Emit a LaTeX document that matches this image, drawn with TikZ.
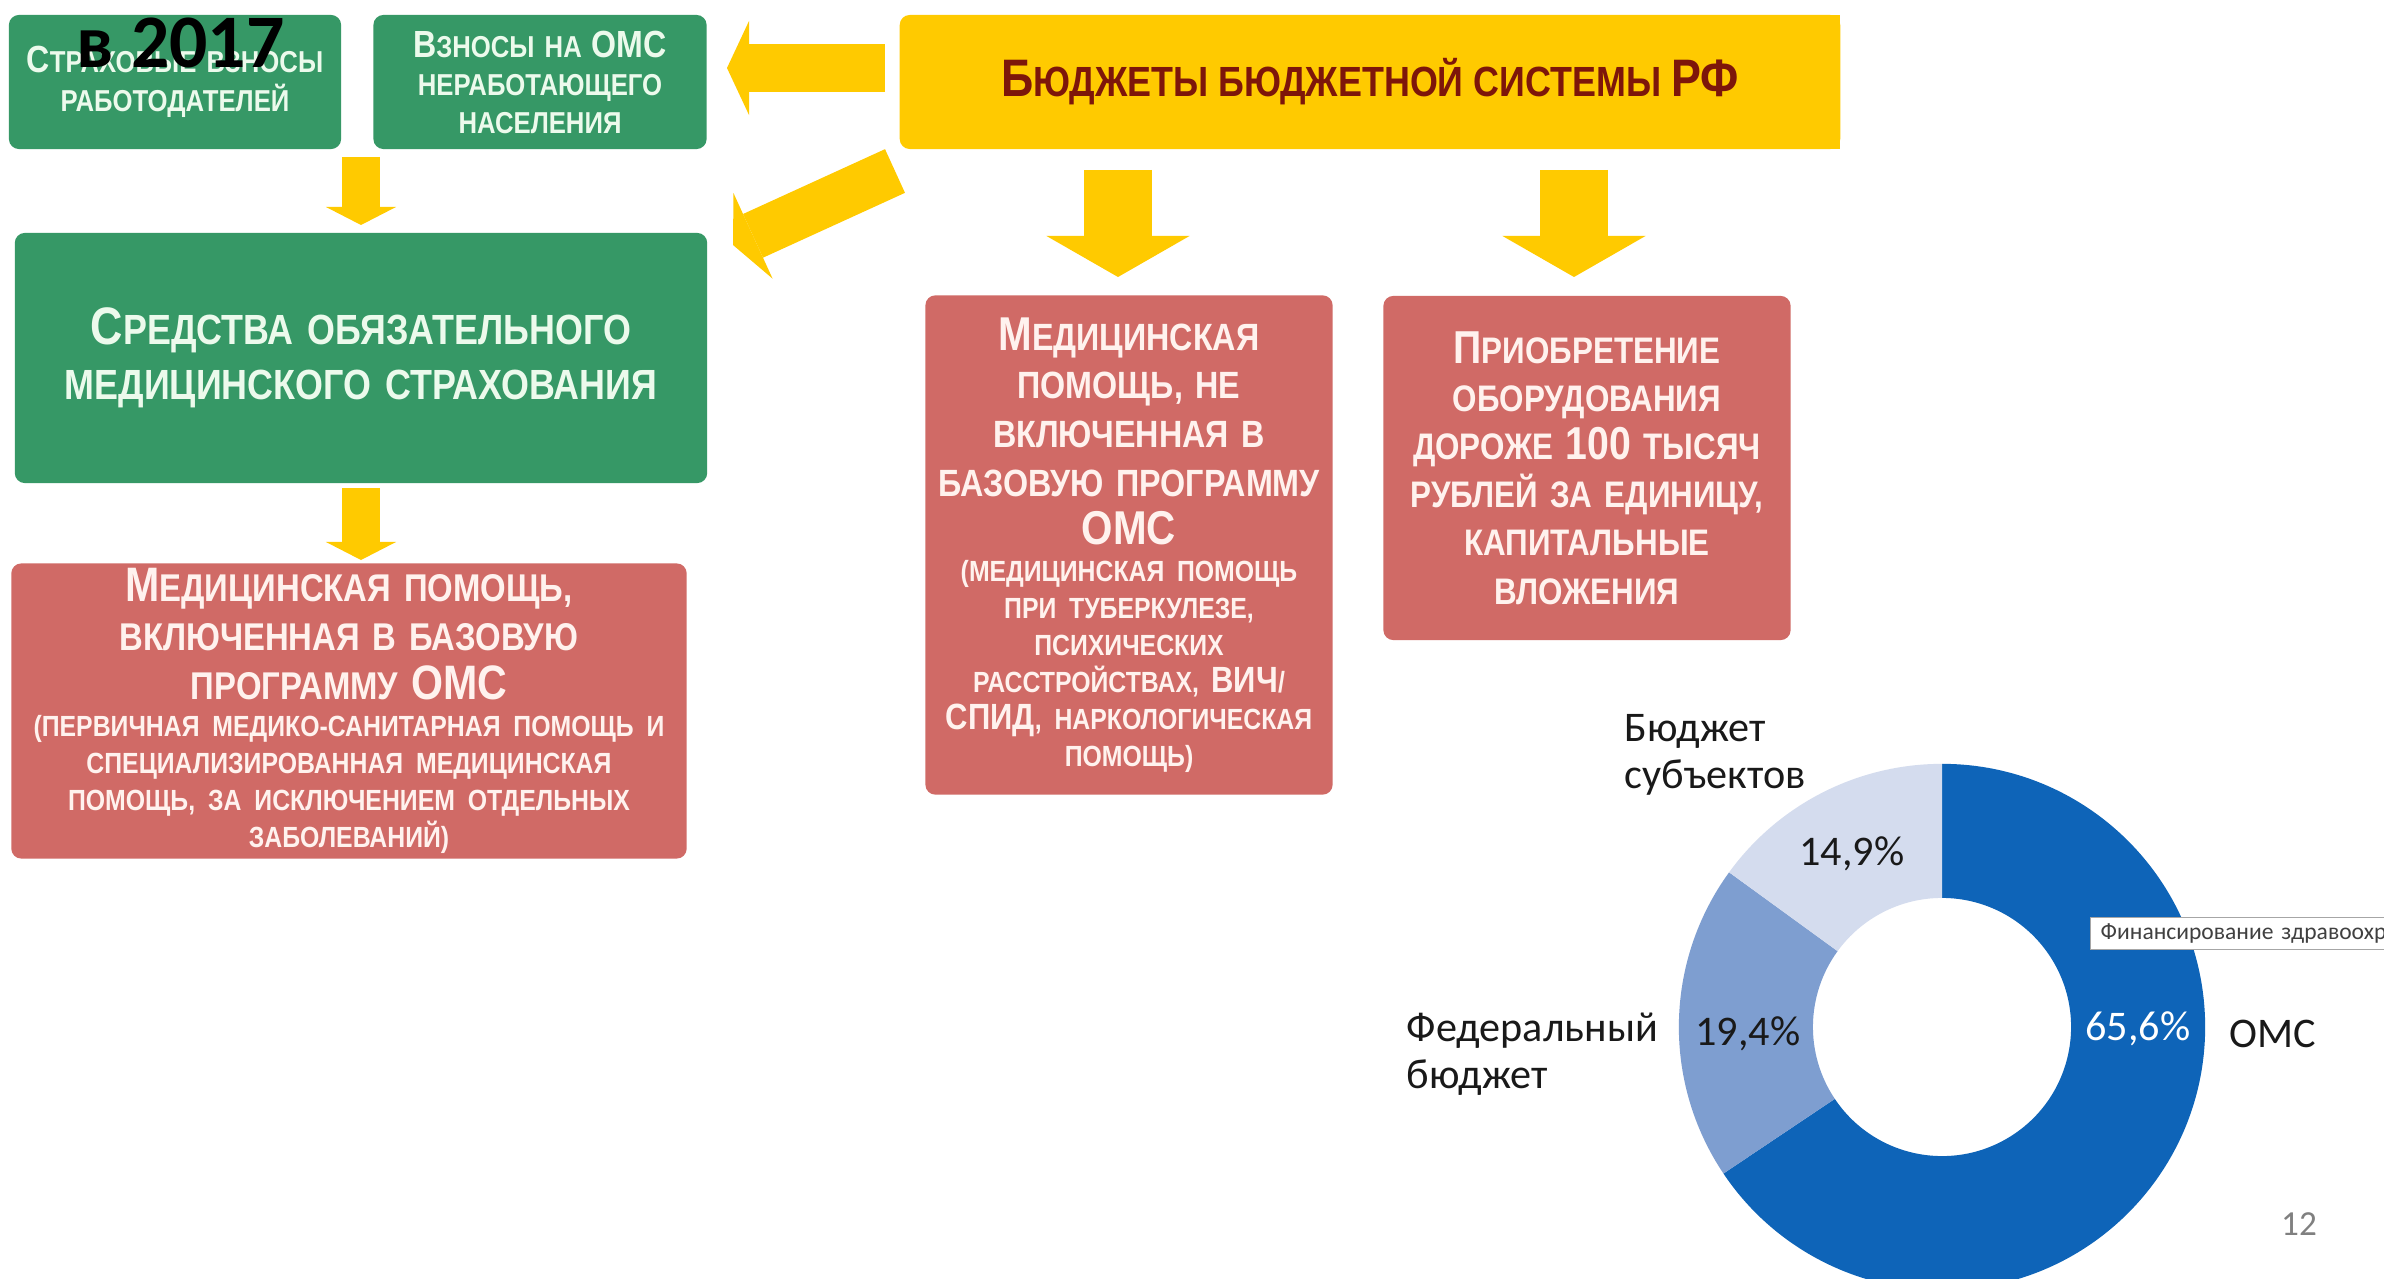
\documentclass[tikz,border=0pt]{standalone}
\usepackage{fontspec}
\usepackage{graphicx}
\setmainfont{Carlito}
\newfontfamily\boxfont[FakeStretch=0.85]{Liberation Sans}
\usetikzlibrary{arrows.meta}

\definecolor{boxgreen}{RGB}{54,152,102}
\definecolor{boxred}{RGB}{208,106,102}
\definecolor{budgetyellow}{RGB}{255,202,0}
\definecolor{budgettext}{RGB}{125,22,10}
\definecolor{greentext}{RGB}{236,250,236}
\definecolor{redtext}{RGB}{255,242,238}
\definecolor{omsblue}{RGB}{14,100,184}
\definecolor{fedblue}{RGB}{126,158,208}
\definecolor{subjblue}{RGB}{212,220,238}

\setlength\parindent{0pt}
\newcommand\Bg[1]{\scalebox{1.25}{#1}}
\newcommand\smallpart{\fontsize{8.3}{10.5}\selectfont}

\tikzset{
  box/.style={rounded corners=1mm, inner sep=0pt, align=center},
  greenbox/.style={box, fill=boxgreen, text=greentext},
  redbox/.style={box, fill=boxred, text=redtext},
  flow/.style={draw=budgetyellow, line cap=butt},
  smallflow/.style={flow, line width=3.8mm, -{Triangle[width=7mm, length=1.8mm, line width=0pt]}},
  sideflow/.style={flow, line width=4.8mm, -{Triangle[width=9.4mm, length=2.2mm, line width=0pt]}},
  bigflow/.style={flow, line width=6.7mm, -{Triangle[width=14.3mm, length=4.1mm, line width=0pt]}},
  label/.style={font=\fontsize{12}{13.2}\selectfont, text=black!90, inner sep=0pt},
}

\begin{document}
\begin{tikzpicture}[x=0.01cm, y=-0.01cm]
    \useasboundingbox (0,0) rectangle (2384,1279);
    \fill[white] (0,0) rectangle (2384,1279);

    % top row
    \node[greenbox, minimum width=3.32cm, minimum height=1.34cm, text width=3.3cm, font=\boxfont\bfseries\fontsize{8.6}{11}\selectfont] (employers) at (175,82) {\Bg{С}ТРАХОВЫЕ ВЗНОСЫ\\РАБОТОДАТЕЛЕЙ};
    \node[greenbox, minimum width=3.33cm, minimum height=1.34cm, text width=3.3cm, font=\boxfont\bfseries\fontsize{8.6}{10.8}\selectfont] (unemployed) at (540,82) {\Bg{В}ЗНОСЫ НА \Bg{ОМС}\\НЕРАБОТАЮЩЕГО\\НАСЕЛЕНИЯ};
    \node[box, fill=budgetyellow, text=budgettext, minimum width=9.4cm, minimum height=1.34cm, font=\boxfont\bfseries\fontsize{12}{14}\selectfont] (budget) at (1370,82) {\Bg{Б}ЮДЖЕТЫ БЮДЖЕТНОЙ СИСТЕМЫ \Bg{РФ}};
    \fill[budgetyellow] (1820,15) rectangle (1840,149);

    % middle
    \node[greenbox, minimum width=6.92cm, minimum height=2.5cm, text width=6.8cm, font=\boxfont\bfseries\fontsize{12}{15.6}\selectfont] (fund) at (361,358) {\Bg{С}РЕДСТВА ОБЯЗАТЕЛЬНОГО\\МЕДИЦИНСКОГО СТРАХОВАНИЯ};

    \node[redbox, minimum width=6.75cm, minimum height=2.95cm, text width=6.7cm, font=\boxfont\bfseries\fontsize{11}{14}\selectfont] (basic) at (349,711) {\Bg{М}ЕДИЦИНСКАЯ ПОМОЩЬ,\\ВКЛЮЧЕННАЯ В БАЗОВУЮ\\ПРОГРАММУ \Bg{ОМС}\par
        {\smallpart (ПЕРВИЧНАЯ МЕДИКО-САНИТАРНАЯ ПОМОЩЬ И\\СПЕЦИАЛИЗИРОВАННАЯ МЕДИЦИНСКАЯ\\ПОМОЩЬ, ЗА ИСКЛЮЧЕНИЕМ ОТДЕЛЬНЫХ\\ЗАБОЛЕВАНИЙ)\par}};

    \node[redbox, minimum width=4.07cm, minimum height=4.99cm, text width=4.05cm, font=\boxfont\bfseries\fontsize{10.8}{13.8}\selectfont] (extra) at (1129,545) {\Bg{М}ЕДИЦИНСКАЯ\\ПОМОЩЬ, НЕ\\ВКЛЮЧЕННАЯ В\\БАЗОВУЮ ПРОГРАММУ\\\Bg{ОМС}\par
        {\smallpart (МЕДИЦИНСКАЯ ПОМОЩЬ\\ПРИ ТУБЕРКУЛЕЗЕ,\\ПСИХИЧЕСКИХ\\РАССТРОЙСТВАХ, \Bg{ВИЧ}/\\\Bg{СПИД}, НАРКОЛОГИЧЕСКАЯ\\ПОМОЩЬ)\par}};

    \node[redbox, minimum width=4.07cm, minimum height=3.44cm, text width=4.05cm, font=\boxfont\bfseries\fontsize{10.5}{13.7}\selectfont] (equipment) at (1587,468) {\Bg{П}РИОБРЕТЕНИЕ\\ОБОРУДОВАНИЯ\\ДОРОЖЕ \Bg{100} ТЫСЯЧ\\РУБЛЕЙ ЗА ЕДИНИЦУ,\\КАПИТАЛЬНЫЕ\\ВЛОЖЕНИЯ};

    % arrows
    \coordinate (a1s) at (361,157);
    \coordinate (a1e) at (361,225);
    \coordinate (a2s) at (361,488);
    \coordinate (a2e) at (361,560);
    \coordinate (a3s) at (1118,170);
    \coordinate (a3e) at (1118,277);
    \coordinate (a4s) at (1574,170);
    \coordinate (a4e) at (1574,277);
    \coordinate (a5s) at (885,68);
    \coordinate (a5e) at (727,68);
    \coordinate (a6s) at (895,171);
    \coordinate (a6e) at (733,245);
    \draw[smallflow] (a1s) -- (a1e);
    \draw[smallflow] (a2s) -- (a2e);
    \draw[bigflow] (a3s) -- (a3e);
    \draw[bigflow] (a4s) -- (a4e);
    \draw[sideflow] (a5s) -- (a5e);
    \draw[sideflow] (a6s) -- (a6e);

    \node[anchor=base west, font=\bfseries\fontsize{21.5}{24}\selectfont, inner sep=0pt] (year) at (76,68) {в 2017};

    % donut
    \begin{scope}[shift={(1942,1027)}]
        \fill[omsblue] (90:2.63cm) arc[start angle=90, end angle=-146.16, radius=2.63cm] -- (-146.16:1.29cm) arc[start angle=-146.16, end angle=90, radius=1.29cm] -- cycle;
        \fill[fedblue] (144:2.63cm) arc[start angle=144, end angle=213.84, radius=2.63cm] -- (213.84:1.29cm) arc[start angle=213.84, end angle=144, radius=1.29cm] -- cycle;
        \fill[subjblue] (90:2.63cm) arc[start angle=90, end angle=144, radius=2.63cm] -- (144:1.29cm) arc[start angle=144, end angle=90, radius=1.29cm] -- cycle;
    \end{scope}

    \node[label, anchor=west, align=left] (subjects) at (1624,755) {Бюджет\\субъектов};
    \node[label] (subjval) at (1852,854) {14,9\%};
    \node[label, anchor=west, align=left] (federal) at (1406,1054) {Федеральный\\бюджет};
    \node[label] (fedval) at (1748,1034) {19,4\%};
    \node[label, text=white] (omsval) at (2138,1029) {65,6\%};
    \node[label, anchor=west] (oms) at (2229,1034) {ОМС};

    \node[draw=black!35, fill=white, anchor=north west, minimum height=0.32cm, text width=3.2cm, align=left, inner sep=0pt, inner xsep=1mm, font=\fontsize{6.7}{8}\selectfont, text=black!75] (tooltip) at (2090,917) {Финансирование здравоохр};

    \node[font=\fontsize{10}{12}\selectfont, text=black!50] (page) at (2299,1224) {12};
\end{tikzpicture}
\end{document}
